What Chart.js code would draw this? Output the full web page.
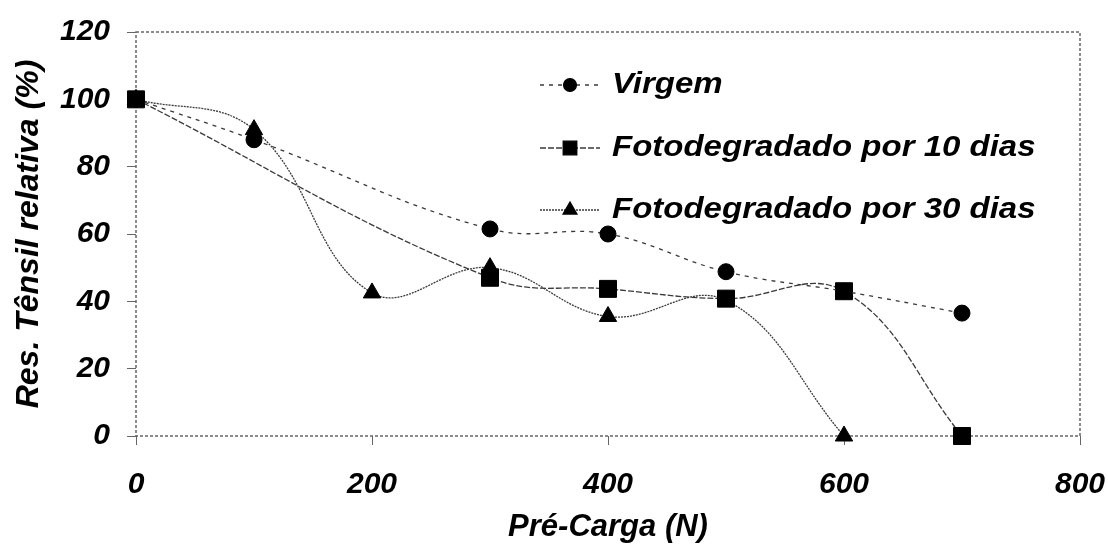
<!DOCTYPE html>
<html>
<head>
<meta charset="utf-8">
<script src="https://cdn.jsdelivr.net/npm/chart.js@4/dist/chart.umd.min.js"></script>
<style>
  html, body { margin: 0; padding: 0; background: #fff; }
  #wrap { width: 1108px; height: 550px; position: relative; }
</style>
</head>
<body>
<div id="wrap"><canvas id="grafico" width="1108" height="550"></canvas></div>
<script>
// Pré-carga aplicada (N)
const preCarga = [0, 100, 200, 300, 400, 500, 600, 700];

// Resistência tênsil relativa (%) — null onde não há ensaio
const virgem   = [100, 88.0, null, 61.5, 60.0, 48.8, 43.0, 36.5];
const foto10   = [100, null, null, 47.0, 43.7, 40.8, 43.0, 0];
const foto30   = [100, 91.0, 42.5, 50.0, 35.5, 40.3, 0, null];

const nomesSeries = ['Virgem', 'Fotodegradado por 10 dias', 'Fotodegradado por 30 dias'];

const ticksX = [0, 200, 400, 600, 800];
const ticksY = [0, 20, 40, 60, 80, 100, 120];

const fonte = 'Liberation Sans, Arial, sans-serif';

function pontos(valores) {
  return preCarga.map((x, i) => ({ x: x, y: valores[i] }));
}

const corLinha = '#3a3a3a';

const serie = (label, valores, estilo, raio, tracejado) => ({
  label: label,
  data: pontos(valores),
  borderColor: corLinha,
  borderWidth: 1.3,
  borderDash: tracejado,
  backgroundColor: '#000',
  pointBackgroundColor: '#000',
  pointBorderColor: '#000',
  pointBorderWidth: 1,
  pointStyle: estilo,
  pointRadius: raio,
  tension: 0.4,
  spanGaps: true,
  clip: false,
  fill: false
});

// Moldura pontilhada da área de plotagem
const moldura = {
  id: 'moldura',
  beforeDatasetsDraw(chart) {
    const a = chart.chartArea;
    const ctx = chart.ctx;
    ctx.save();
    ctx.strokeStyle = '#666';
    ctx.lineWidth = 1.5;
    ctx.setLineDash([3, 2]);
    ctx.strokeRect(a.left, a.top, a.right - a.left, a.bottom - a.top);
    ctx.restore();
  }
};

// Legenda dentro da área de plotagem
const legendaInterna = {
  id: 'legendaInterna',
  afterDatasetsDraw(chart) {
    const ctx = chart.ctx;
    const linhas = [85, 148, 210];
    const x0 = 540, x1 = 600, xm = 570, xt = 612;
    chart.data.datasets.forEach((ds, i) => {
      const y = linhas[i];
      ctx.save();
      ctx.strokeStyle = corLinha;
      ctx.lineWidth = 1.3;
      ctx.setLineDash(ds.borderDash || []);
      ctx.beginPath();
      ctx.moveTo(x0, y);
      ctx.lineTo(x1, y);
      ctx.stroke();
      ctx.setLineDash([]);
      ctx.fillStyle = '#000';
      ctx.strokeStyle = '#000';
      Chart.helpers.drawPoint(ctx, {
        pointStyle: ds.pointStyle,
        radius: ds.pointRadius * 0.8,
        rotation: 0,
        borderWidth: 1
      }, xm, y);
      ctx.font = 'italic bold 30px ' + fonte;
      ctx.textBaseline = 'middle';
      ctx.textAlign = 'left';
      ctx.translate(xt, y);
      ctx.scale(1.1, 1);
      ctx.fillText(ds.label, 0, 0);
      ctx.restore();
    });
  }
};

new Chart(document.getElementById('grafico'), {
  type: 'line',
  data: {
    datasets: [
      serie(nomesSeries[0], virgem, 'circle', 8, [4, 5]),
      serie(nomesSeries[1], foto10, 'rect', 12, [6, 2]),
      serie(nomesSeries[2], foto30, 'triangle', 10, [2, 1])
    ]
  },
  options: {
    responsive: false,
    animation: false,
    layout: { padding: { left: 0, right: 28, top: 32, bottom: 0 } },
    plugins: {
      legend: { display: false },
      tooltip: { enabled: false }
    },
    scales: {
      x: {
        type: 'linear',
        min: 0,
        max: 800,
        afterBuildTicks(scale) { scale.ticks = ticksX.map(v => ({ value: v })); },
        afterFit(scale) {
          scale.height = 114;
          scale.paddingLeft = 0;
          scale.paddingRight = 0;
        },
        ticks: {
          color: '#000',
          font: { family: fonte, size: 30, style: 'italic', weight: 'bold' },
          padding: 22,
          maxRotation: 0
        },
        grid: {
          drawOnChartArea: false,
          drawTicks: true,
          tickLength: 9,
          color: '#666'
        },
        border: { display: false },
        title: {
          display: true,
          text: 'Pré-Carga (N)',
          color: '#000',
          font: { family: fonte, size: 31, style: 'italic', weight: 'bold' },
          padding: { top: 0, bottom: 4 }
        }
      },
      y: {
        type: 'linear',
        min: 0,
        max: 120,
        afterBuildTicks(scale) { scale.ticks = ticksY.map(v => ({ value: v })); },
        afterFit(scale) {
          scale.width = 136;
          scale.paddingTop = 0;
          scale.paddingBottom = 0;
        },
        ticks: {
          color: '#000',
          font: { family: fonte, size: 30, style: 'italic', weight: 'bold' },
          padding: 17
        },
        grid: {
          drawOnChartArea: false,
          drawTicks: true,
          tickLength: 9,
          color: '#666'
        },
        border: { display: false },
        title: {
          display: true,
          text: 'Res. Tênsil relativa (%)',
          color: '#000',
          font: { family: fonte, size: 32, style: 'italic', weight: 'bold' },
          padding: { top: 10, bottom: 0 }
        }
      }
    }
  },
  plugins: [moldura, legendaInterna]
});
</script>
</body>
</html>
